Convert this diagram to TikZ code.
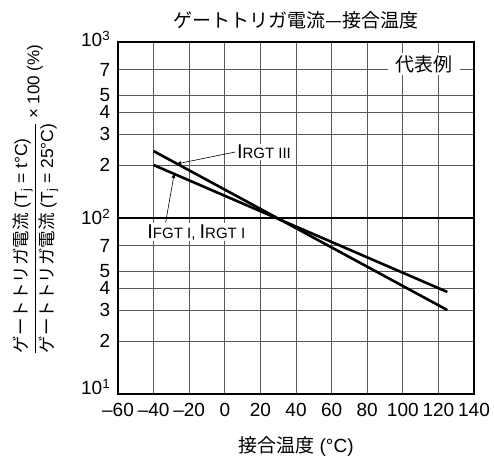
\documentclass[tikz,border=0pt]{standalone}
\usepackage{fontspec}
\setmainfont{Liberation Sans}
\newfontfamily\cjk{Noto Sans CJK JP}
\usepackage{tikz}
\usetikzlibrary{arrows,calc,positioning}

\newcommand{\fs}[1]{\fontsize{#1}{#1}\selectfont}

\begin{document}
\begin{tikzpicture}[>=stealth', semithick]
 \tikzstyle{gridln}=[draw=black!65, line width=0.8pt]
 \tikzstyle{curve}=[line width=2.6pt]
 \tikzstyle{tick}=[font=\fs{19}, inner sep=0.5pt, text height=13.5pt, text depth=0pt]
 \tikzstyle{tag}=[fill=white, inner sep=1.5pt]
 \tikzstyle{lead}=[->, line width=0.6pt]
 \useasboundingbox (0,0) rectangle (494pt,461pt);
 \begin{scope}[shift={(224.8pt,-109pt)}, x=1.78pt, y=176pt]
  % grid
  \foreach \t in {-40,-20,...,120}
   \draw[gridln] (\t,1) -- (\t,3);
  \foreach \d in {1,2}
   \foreach \m in {2,3,4,5,7}
    \draw[gridln] (-60,{\d+log10(\m)}) -- (140,{\d+log10(\m)});
  \draw[line width=1.6pt] (-60,2) -- (140,2);
  \draw[line width=2.6pt] (-60,1) rectangle (140,3);
  % axes numbers
  \foreach \t/\s in {-60/–60,-40/–40,-20/–20,0/0,20/20,40/40,60/60,80/80,100/100,120/120,140/140}
   \node[tick, anchor=north] (x\t) at (\t,1) [yshift=-8pt] {\s};
  \foreach \d/\dy in {1/6pt,2/0pt,3/2pt}
   \node[tick, anchor=east] (y\d) at (-60,\d) [xshift=-7pt, yshift=\dy] {10\textsuperscript{\d}};
  \foreach \d in {1,2}
   \foreach \m in {2,3,4,5,7}
    \node[tick, anchor=east] (y\d\m) at (-60,{\d+log10(\m)}) [xshift=-7pt] {\m};
  % curves
  \draw[curve] (-40,{log10(240)}) -- (125,{log10(30)}) coordinate[pos=0.08] (hitR);
  \draw[curve] (-40,{log10(200)}) -- (125,{log10(38)}) coordinate[pos=0.07] (hitF);
  \node[tag] (labR) at (22,2.375) {\fs{20}I\fs{15}RGT III};
  \node[tag] (labF) at (-16,1.92) {\fs{20}I\fs{15}FGT I, \fs{20}I\fs{15}RGT I};
  \draw[lead] (labR.west) -- (hitR);
  \draw[lead] ([xshift=20pt]labF.north west) -- (hitF);
  \node[tag, minimum width=72pt, minimum height=22pt, font=\cjk\fs{19}] (rep) at (112,2.875) {代表例};
  % titles
  \node[font=\cjk\fs{19}] (title) at (40,3) [yshift=22pt] {ゲートトリガ電流—接合温度};
  \node[font=\fs{19}] (xlab) at (40,1) [yshift=-52pt] {{\cjk 接合温度} (°C)};
  \node[rotate=90, font=\fs{17.5}, inner sep=1pt] (ylab) at (-106.6,1.884)
   {\renewcommand\arraystretch{1.45}\begin{tabular}{@{}l@{}}{\cjk ゲートトリガ電流} (T\textsubscript{j} = t°C)\\\hline {\cjk ゲートトリガ電流} (T\textsubscript{j} = 25°C)\end{tabular}};
  \node[rotate=90, anchor=west, font=\fs{17}] (ymul) at (ylab.east) {× 100 (\%)};
 \end{scope}
\end{tikzpicture}
\end{document}
